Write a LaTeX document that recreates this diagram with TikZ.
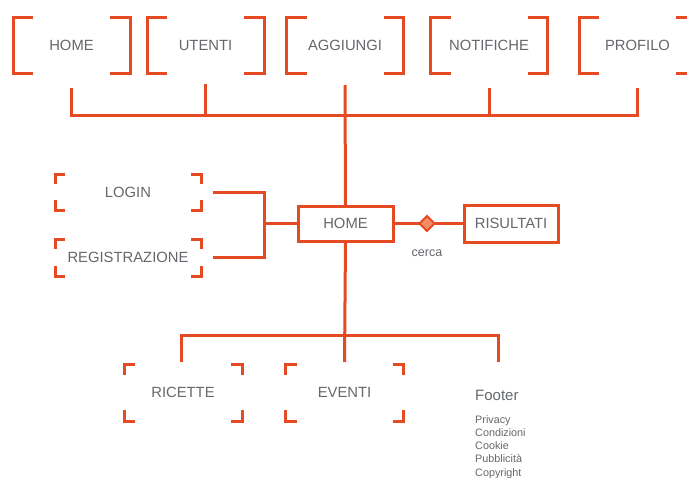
\documentclass[tikz,border=0pt]{standalone}
\usepackage{fontspec}
\setmainfont{Liberation Sans}
\usetikzlibrary{calc,shapes.geometric}
\definecolor{org}{RGB}{230,74,34}
\definecolor{txt}{RGB}{100,103,107}
\definecolor{dfill}{RGB}{242,140,100}
\newcommand\brk[1]{%
 \draw[ln] ([xshift=20pt]#1.north west) -- (#1.north west) -- (#1.south west) -- ([xshift=20pt]#1.south west);
 \draw[ln] ([xshift=-20pt]#1.north east) -- (#1.north east) -- (#1.south east) -- ([xshift=-20pt]#1.south east);}
\newcommand\crn[2]{%
 \draw[ln] ([yshift=-#2]#1.north west) -- (#1.north west) -- ([xshift=#2]#1.north west);
 \draw[ln] ([yshift=-#2]#1.north east) -- (#1.north east) -- ([xshift=-#2]#1.north east);
 \draw[ln] ([yshift=#2]#1.south west) -- (#1.south west) -- ([xshift=#2]#1.south west);
 \draw[ln] ([yshift=#2]#1.south east) -- (#1.south east) -- ([xshift=-#2]#1.south east);}
\begin{document}
\begin{tikzpicture}[x=1pt,y=-1pt,
  ln/.style={draw=org,line width=3pt},
  lab/.style={text=txt,font=\fontsize{14.8}{17}\selectfont,inner sep=0pt,outer sep=0pt},
  topbox/.style={lab,minimum width=117pt,minimum height=56pt},
  sidebox/.style={lab,minimum width=146pt,minimum height=36pt},
  botbox/.style={lab,minimum width=118pt,minimum height=57pt},
  solidbox/.style={lab,draw=org,line width=3pt,minimum height=35pt}]
\useasboundingbox (0,0) rectangle (687,477);
% top menu
\node[topbox] (t1) at (71.5,45) {HOME};
\node[topbox] (t2) at (205.5,45) {UTENTI};
\node[topbox] (t3) at (345,45) {AGGIUNGI};
\node[topbox] (t4) at (489,45) {NOTIFICHE};
\node[topbox] (t5) at (637.5,45) {PROFILO};
\brk{t1}\brk{t2}\brk{t3}\brk{t4}\brk{t5}
% center
\node[solidbox,minimum width=95pt] (m) at (345.5,223.5) {HOME};
\node[diamond,draw=org,fill=dfill,line width=2pt,inner sep=0pt,outer sep=0pt,minimum width=15pt,minimum height=15pt] (d) at (427,223.5) {};
\node[solidbox,minimum width=94pt,minimum height=37pt] (r) at (511,223.5) {RISULTATI};
\node[text=txt,font=\fontsize{12.5}{15}\selectfont,inner sep=0pt] (c) at (427,253.5) {cerca};
% side
\node[sidebox] (l) at (128,192) {LOGIN};
\node[sidebox,minimum height=37pt] (g) at (128,257.5) {REGISTRAZIONE};
\crn{l}{10pt}\crn{g}{10pt}
\coordinate (jn) at (264,223.5);
% bottom
\node[botbox] (rc) at (183,392.5) {RICETTE};
\node[botbox] (ev) at (344.5,392.5) {EVENTI};
\crn{rc}{11pt}\crn{ev}{11pt}
\node[text=txt,font=\fontsize{15}{18}\selectfont,inner sep=0pt,anchor=base west] (ft) at (475,400) {Footer};
\node[text=txt,font=\fontsize{10.8}{13.3}\selectfont,inner sep=0pt,anchor=north west,align=left] (fl) at (475,415) {Privacy\\Condizioni\\Cookie\\Pubblicità\\Copyright};
\coordinate (bl) at (181,335);
\coordinate (br) at (498,335);
\coordinate (fb) at (498,362);
% connectors
\draw[ln] ([yshift=-15pt]t1.south) |- ([yshift=-42pt]t5.south) -- ([yshift=-15pt]t5.south);
\draw[ln] ([yshift=-11pt]t2.south) -- ([yshift=-42pt]t2.south);
\draw[ln] ([yshift=-15pt]t4.south) -- ([yshift=-42pt]t4.south);
\draw[ln] ([yshift=-12pt]t3.south) -- (m.north);
\draw[ln] (m.east) -- (d.west);
\draw[ln] (d.east) -- (r.west);
\draw[ln] ([xshift=12pt]l.east) -| (jn) |- ([xshift=12pt]g.east);
\draw[ln] (jn) -- (m.west);
\draw[ln] (m.south) -- ([yshift=2pt]ev.north);
\draw[ln] ([xshift=-2pt,yshift=2pt]rc.north) -- (bl) -- (br) -- (fb);
\end{tikzpicture}
\end{document}
